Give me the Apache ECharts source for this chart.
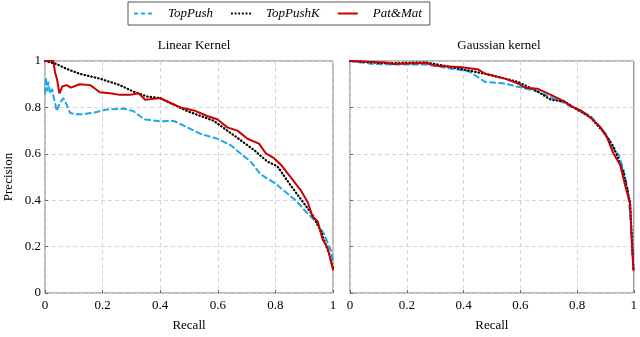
<!DOCTYPE html>
<html>
<head>
<meta charset="utf-8">
<script src="https://cdn.jsdelivr.net/npm/echarts@6/dist/echarts.min.js"></script>
<style>
  html, body { margin: 0; padding: 0; background: #fff; }
  #chart { width: 640px; height: 337px; }
</style>
</head>
<body>
<div id="chart"></div>
<script>
// linear kernel
var linTopPushR = [0, 0.003, 0.007, 0.012, 0.017, 0.025, 0.029, 0.035, 0.04, 0.052, 0.064, 0.075, 0.087, 0.105, 0.122, 0.168, 0.215, 0.273, 0.307, 0.343, 0.4, 0.447, 0.494, 0.54, 0.598, 0.645, 0.68, 0.714, 0.749, 0.795, 0.83, 0.871, 0.906, 0.941, 0.97, 0.993, 1.0];
var linTopPushP = [0.86, 0.93, 0.87, 0.91, 0.86, 0.88, 0.85, 0.82, 0.784, 0.82, 0.84, 0.812, 0.777, 0.77, 0.77, 0.777, 0.791, 0.795, 0.784, 0.749, 0.74, 0.742, 0.714, 0.686, 0.665, 0.637, 0.6, 0.567, 0.511, 0.476, 0.441, 0.399, 0.35, 0.308, 0.252, 0.182, 0.14];
var linTopPushKR = [0, 0.04, 0.075, 0.12, 0.19, 0.26, 0.307, 0.354, 0.4, 0.447, 0.494, 0.54, 0.586, 0.633, 0.68, 0.726, 0.772, 0.807, 0.854, 0.9, 0.929, 0.958, 0.987, 1.0];
var linTopPushKP = [1, 0.987, 0.966, 0.945, 0.924, 0.896, 0.868, 0.847, 0.84, 0.812, 0.784, 0.763, 0.742, 0.7, 0.658, 0.616, 0.567, 0.546, 0.462, 0.385, 0.336, 0.266, 0.168, 0.11];
var linPatMatR = [0, 0.029, 0.035, 0.042, 0.05, 0.06, 0.075, 0.09, 0.12, 0.157, 0.18, 0.19, 0.226, 0.26, 0.296, 0.325, 0.348, 0.4, 0.436, 0.47, 0.517, 0.563, 0.598, 0.633, 0.668, 0.703, 0.743, 0.767, 0.795, 0.819, 0.854, 0.889, 0.912, 0.929, 0.947, 0.964, 0.981, 1.0];
var linPatMatP = [1, 1, 0.95, 0.92, 0.86, 0.89, 0.896, 0.885, 0.9, 0.896, 0.875, 0.865, 0.861, 0.854, 0.854, 0.861, 0.833, 0.84, 0.819, 0.8, 0.787, 0.763, 0.749, 0.714, 0.7, 0.665, 0.644, 0.602, 0.581, 0.553, 0.497, 0.441, 0.392, 0.329, 0.308, 0.231, 0.196, 0.1];

// gaussian kernel
var gauTopPushR = [0, 0.081, 0.15, 0.267, 0.348, 0.42, 0.476, 0.546, 0.592, 0.662, 0.755, 0.801, 0.848, 0.883, 0.906, 0.929, 0.947, 0.964, 0.98, 0.99, 0.999];
var gauTopPushP = [1, 0.987, 0.985, 0.985, 0.969, 0.955, 0.91, 0.903, 0.889, 0.868, 0.819, 0.791, 0.763, 0.714, 0.68, 0.62, 0.595, 0.53, 0.441, 0.3, 0.1];
var gauTopPushKR = [0, 0.128, 0.267, 0.33, 0.418, 0.476, 0.546, 0.592, 0.662, 0.708, 0.755, 0.801, 0.848, 0.894, 0.929, 0.964, 0.987, 0.999];
var gauTopPushKP = [1, 0.99, 0.994, 0.98, 0.959, 0.945, 0.924, 0.91, 0.868, 0.833, 0.826, 0.791, 0.756, 0.693, 0.63, 0.518, 0.392, 0.1];
var gauPatMatR = [0, 0.128, 0.151, 0.267, 0.302, 0.395, 0.453, 0.476, 0.546, 0.592, 0.616, 0.662, 0.708, 0.755, 0.778, 0.813, 0.848, 0.883, 0.906, 0.929, 0.952, 0.97, 0.987, 0.993, 0.999];
var gauPatMatP = [1, 0.994, 0.987, 0.991, 0.98, 0.973, 0.963, 0.945, 0.924, 0.903, 0.885, 0.88, 0.854, 0.826, 0.805, 0.787, 0.756, 0.714, 0.67, 0.6, 0.553, 0.462, 0.385, 0.224, 0.098];

var ticks = [0, 0.2, 0.4, 0.6, 0.8, 1];
var names = ['TopPush', 'TopPushK', 'Pat&Mat'];

function pairs(r, p) {
  return r.map(function (v, i) { return [v, p[i]]; });
}

var cyan = '#1aa7ec', red = '#cc0000', blk = '#000';
var font = '"Liberation Serif", "DejaVu Serif", serif';

// legend samples drawn as small paths (dashes / dots / bar)
var iconDash = 'path://M0,0h4v2h-4zM7,0h4v2h-4zM14,0h4v2h-4z';
var iconDot = 'path://M0,0h2v2h-2zM4,0h2v2h-2zM8,0h2v2h-2zM12,0h2v2h-2zM16,0h2v2h-2zM20,0h2v2h-2z';
var iconLine = 'path://M0,0h20v2h-20z';

function axisX(idx) {
  return {
    type: 'value', gridIndex: idx, min: 0, max: 1, interval: 0.2,
    name: 'Recall', nameLocation: 'middle', nameGap: 26,
    nameTextStyle: { fontFamily: font, fontSize: 13, color: '#000' },
    axisLine: { show: false },
    axisTick: { show: true, inside: true, length: 3, lineStyle: { color: '#666' } },
    axisLabel: { fontFamily: font, fontSize: 13, color: '#000', margin: 6 },
    splitLine: { lineStyle: { type: [4, 3], color: '#d4d4d4' } }
  };
}
function axisY(idx, showLabel) {
  return {
    type: 'value', gridIndex: idx, min: 0, max: 1, interval: 0.2,
    name: showLabel ? 'Precision' : '', nameLocation: 'middle', nameGap: 30,
    nameTextStyle: { fontFamily: font, fontSize: 13, color: '#000' },
    axisLine: { show: false },
    axisTick: { show: true, inside: true, length: 3, lineStyle: { color: '#666' } },
    axisLabel: { show: showLabel, fontFamily: font, fontSize: 13, color: '#000', margin: 4 },
    splitLine: { lineStyle: { type: [4, 3], color: '#d4d4d4' } }
  };
}
function line(name, idx, data, color, type, width) {
  return {
    name: name, type: 'line', xAxisIndex: idx, yAxisIndex: idx,
    data: data, showSymbol: false, symbol: 'none', animation: false,
    lineStyle: { color: color, type: type, width: width, cap: 'round' },
    itemStyle: { color: color }
  };
}

var chart = echarts.init(document.getElementById('chart'));
chart.setOption({
  backgroundColor: '#fff',
  animation: false,
  title: [
    { text: 'Linear Kernel', left: 189, top: 34, textAlign: 'center',
      textStyle: { fontFamily: font, fontSize: 13, fontWeight: 'normal', color: '#000' } },
    { text: 'Gaussian kernel', left: 494, top: 34, textAlign: 'center',
      textStyle: { fontFamily: font, fontSize: 13, fontWeight: 'normal', color: '#000' } }
  ],
  legend: {
    data: [
      { name: names[0], icon: iconDash, itemStyle: { color: cyan } },
      { name: names[1], icon: iconDot, itemStyle: { color: blk } },
      { name: names[2], icon: iconLine, itemStyle: { color: red } }
    ],
    left: 128, top: 2, padding: [5, 8, 5, 6], itemGap: 18,
    itemWidth: 20, itemHeight: 2,
    borderColor: '#555', borderWidth: 1,
    textStyle: { fontFamily: font, fontSize: 13, fontStyle: 'italic', color: '#000', padding: [0, 0, 0, 10] }
  },
  grid: [
    { left: 45, top: 61, width: 288, height: 239, show: true, borderColor: '#777', borderWidth: 1 },
    { left: 350, top: 61, width: 288, height: 239, show: true, borderColor: '#777', borderWidth: 1 }
  ],
  xAxis: [axisX(0), axisX(1)],
  yAxis: [axisY(0, true), axisY(1, false)],
  series: [
    line(names[0], 0, pairs(linTopPushR, linTopPushP), cyan, [5, 4], 2),
    line(names[1], 0, pairs(linTopPushKR, linTopPushKP), blk, [0.5, 3], 2.2),
    line(names[2], 0, pairs(linPatMatR, linPatMatP), red, 'solid', 2),
    line(names[0], 1, pairs(gauTopPushR, gauTopPushP), cyan, [5, 4], 2),
    line(names[1], 1, pairs(gauTopPushKR, gauTopPushKP), blk, [0.5, 3], 2.2),
    line(names[2], 1, pairs(gauPatMatR, gauPatMatP), red, 'solid', 2)
  ]
});
</script>
</body>
</html>
